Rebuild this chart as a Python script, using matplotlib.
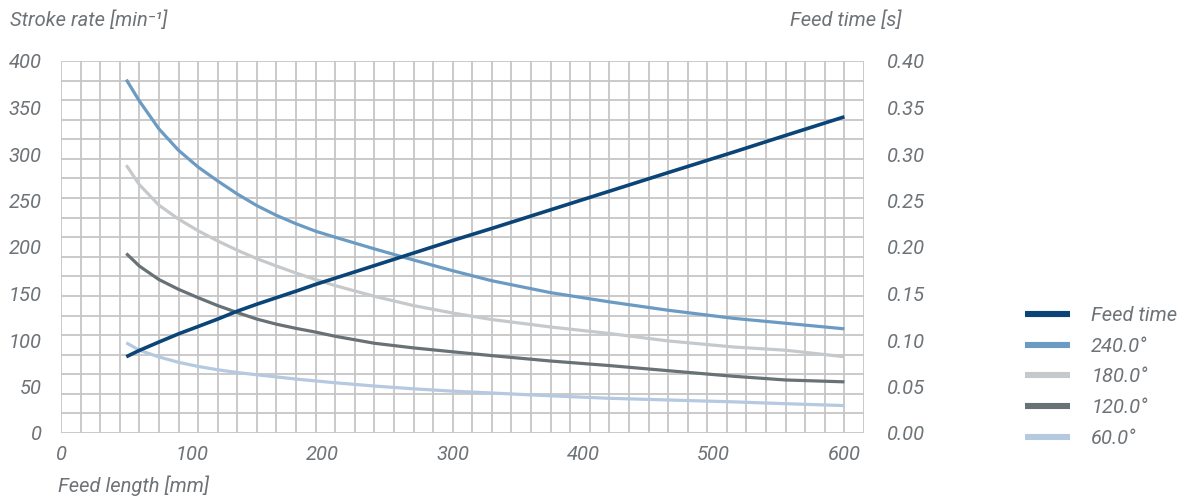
import numpy as np
import matplotlib
matplotlib.use("Agg")
import matplotlib.pyplot as plt
from matplotlib.lines import Line2D

# Feed length [mm]
feed_length = [50, 60, 75, 90, 105, 120, 135, 150, 165, 180, 195, 210,
               240, 270, 300, 330, 375, 420, 465, 515, 555, 600]

# Feed time [s] (right axis)
feed_time = [0.0820, 0.0888, 0.0978, 0.1066, 0.1145, 0.1225, 0.1310, 0.1385,
             0.1455, 0.1525, 0.1598, 0.1665, 0.1800, 0.1935, 0.2070, 0.2200,
             0.2400, 0.2600, 0.2800, 0.3020, 0.3200, 0.3400]

# Stroke rate [1/min] per feed angle (left axis)
rate_240 = [380, 357, 327, 304, 286, 271, 257, 244.5, 234, 225, 217, 210.5,
            198, 186, 174.5, 163.7, 150.9, 141, 132, 123.3, 118, 112]
rate_180 = [288, 267, 245, 230, 217.5, 206.5, 196.5, 187.5, 179.5, 172, 165, 158.5,
            147, 137, 129, 122, 114, 107, 99, 92.5, 89, 82]
rate_120 = [193, 179.5, 165, 154.5, 145.5, 137, 129.5, 122.5, 117, 112.5, 108.5, 104,
            96.5, 91.5, 87.3, 83.2, 77.4, 72.5, 67, 61, 57, 55]
rate_60 = [97, 89, 81.8, 76, 71.6, 68, 65, 62.6, 60.3, 58, 56, 54,
           50.5, 47.5, 45, 43, 40, 37.3, 35.5, 33.5, 31.5, 29.5]

series_labels = ["240.0°", "180.0°", "120.0°", "60.0°"]
feed_label = "Feed time"

left_ticks = [0, 50, 100, 150, 200, 250, 300, 350, 400]
right_ticks = [0.00, 0.05, 0.10, 0.15, 0.20, 0.25, 0.30, 0.35, 0.40]
x_ticks = [0, 100, 200, 300, 400, 500, 600]

c_feed = "#0b4477"
c_240 = "#6b9bc3"
c_180 = "#c6c9cc"
c_120 = "#687176"
c_60 = "#b5c9e0"
txt = "#6e7378"
grid_c = "#c6c6c6"

plt.rcParams["font.family"] = ["Roboto", "DejaVu Sans"]
plt.rcParams["font.style"] = "italic"

fig = plt.figure(figsize=(11.88, 4.99), dpi=100)
ax = fig.add_axes([61 / 1188, 1 - 433 / 499, (864 - 61) / 1188, (433 - 61) / 499])
ax2 = ax.twinx()

ax.set_xlim(0, 615)
ax.set_ylim(0, 400)
ax2.set_ylim(0, 0.40)

# background grid: 15 mm columns, 19 rows (kept even where they meet labelled ticks)
ax.xaxis.remove_overlapping_locs = False
ax.yaxis.remove_overlapping_locs = False
ax.set_xticks(np.arange(0, 616, 15), minor=True)
ax.set_yticks(np.linspace(0, 400, 20), minor=True)
ax.grid(which="minor", color=grid_c, lw=1.3)
ax.grid(which="major", visible=False)
ax.tick_params(which="minor", length=0)
ax.set_axisbelow(True)

for a in (ax, ax2):
    for s in a.spines.values():
        s.set_visible(False)

ax.set_xticks(x_ticks)
ax.set_xticklabels([str(v) for v in x_ticks])
ax.set_yticks(left_ticks)
ax.set_yticklabels([str(v) for v in left_ticks])
ax2.set_yticks(right_ticks)
ax2.set_yticklabels([f"{v:.2f}" for v in right_ticks])

ax.tick_params(axis="x", which="major", length=0, pad=8.5, labelsize=14.5, labelcolor=txt)
ax.tick_params(axis="y", which="major", length=0, pad=13.7, labelsize=14.5, labelcolor=txt)
ax2.tick_params(axis="y", length=0, pad=16.5, labelsize=14.5, labelcolor=txt)

lw = 2.3
ax.plot(feed_length, rate_60, color=c_60, lw=lw, solid_capstyle="butt")
ax.plot(feed_length, rate_120, color=c_120, lw=lw, solid_capstyle="butt")
ax.plot(feed_length, rate_180, color=c_180, lw=lw, solid_capstyle="butt")
ax.plot(feed_length, rate_240, color=c_240, lw=lw, solid_capstyle="butt")
ax2.plot(feed_length, feed_time, color=c_feed, lw=2.6, solid_capstyle="butt")

fig.text(10 / 1188, 1 - 20 / 499, "Stroke rate [min⁻¹]", fontsize=14.5, color=txt,
         ha="left", va="center")
fig.text(901 / 1188, 1 - 20 / 499, "Feed time [s]", fontsize=14.5, color=txt,
         ha="right", va="center")
fig.text(58 / 1188, 1 - 486 / 499, "Feed length [mm]", fontsize=14.5, color=txt,
         ha="left", va="center")

handles = [Line2D([], [], color=c, lw=4.4, solid_capstyle="butt")
           for c in (c_feed, c_240, c_180, c_120, c_60)]
labels = [feed_label] + series_labels
leg = fig.legend(handles, labels, loc="upper left",
                 bbox_to_anchor=(1025 / 1188, 1 - 306 / 499),
                 frameon=False, fontsize=14.5, labelcolor=txt,
                 handlelength=2.24, handletextpad=1.04, labelspacing=0.58,
                 borderaxespad=0, borderpad=0)

fig.savefig("out.png", dpi=100)
